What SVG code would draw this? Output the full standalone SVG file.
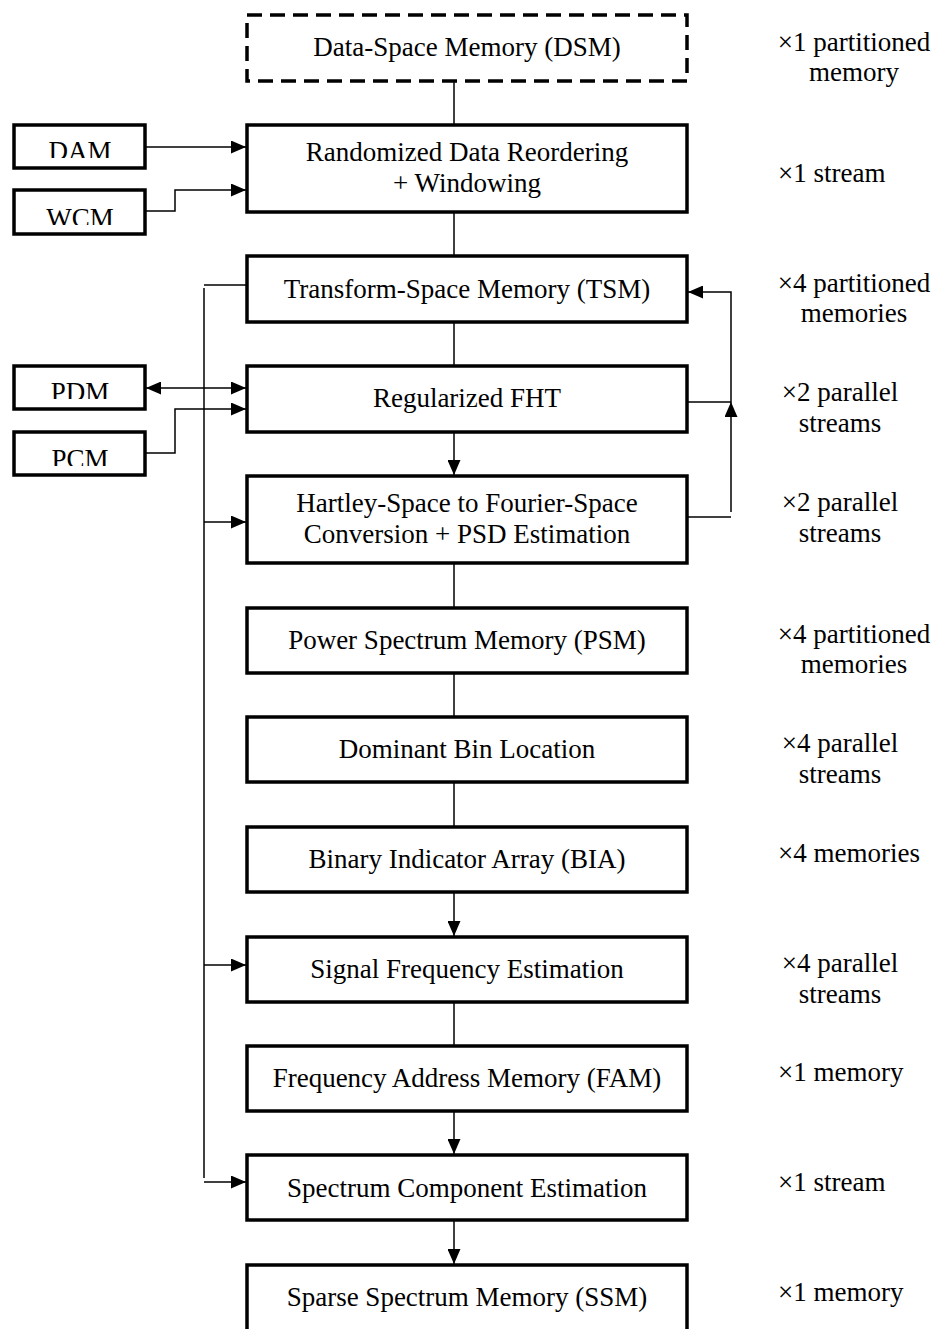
<svg xmlns="http://www.w3.org/2000/svg" width="933" height="1329" viewBox="0 0 933 1329">
  <style>
    text { font-family: "Liberation Serif", "Times New Roman", serif; font-size: 27px; fill: #000; }
    .c { text-anchor: middle; }
    .s { text-anchor: start; }
    .box { fill: #fff; stroke: #000; stroke-width: 3.5; }
    .dash { fill: #fff; stroke: #000; stroke-width: 3.5; stroke-dasharray: 15 8; }
    .ln { fill: none; stroke: #000; stroke-width: 1.5; }
  </style>
  <defs>
    <marker id="ah" viewBox="0 0 15 13" refX="15" refY="6.5" markerWidth="15" markerHeight="13" markerUnits="userSpaceOnUse" orient="auto-start-reverse">
      <path d="M0,0 L15,6.5 L0,13 Z" fill="#000"/>
    </marker>
    <clipPath id="clipDAM"><rect x="14" y="125" width="131" height="33"/></clipPath>
    <clipPath id="clipWCM"><rect x="14" y="189" width="131" height="36"/></clipPath>
    <clipPath id="clipPDM"><rect x="14" y="365" width="131" height="34"/></clipPath>
    <clipPath id="clipPCM"><rect x="14" y="431" width="131" height="35"/></clipPath>
  </defs>

  <!-- connectors -->
  <g id="connectors">
    <!-- main vertical chain -->
    <line class="ln" x1="454" y1="81" x2="454" y2="124"/>
    <line class="ln" x1="454" y1="212" x2="454" y2="255"/>
    <line class="ln" x1="454" y1="322" x2="454" y2="366"/>
    <line class="ln" x1="454" y1="432" x2="454" y2="475" marker-end="url(#ah)"/>
    <line class="ln" x1="454" y1="563" x2="454" y2="608"/>
    <line class="ln" x1="454" y1="673" x2="454" y2="717"/>
    <line class="ln" x1="454" y1="782" x2="454" y2="827"/>
    <line class="ln" x1="454" y1="892" x2="454" y2="936" marker-end="url(#ah)"/>
    <line class="ln" x1="454" y1="1002" x2="454" y2="1046"/>
    <line class="ln" x1="454" y1="1111" x2="454" y2="1154" marker-end="url(#ah)"/>
    <line class="ln" x1="454" y1="1220" x2="454" y2="1264" marker-end="url(#ah)"/>

    <!-- side memories into the reordering and FHT stages -->
    <line class="ln" x1="145" y1="147" x2="246" y2="147" marker-end="url(#ah)"/>
    <polyline class="ln" points="145,211 175,211 175,190 246,190" marker-end="url(#ah)"/>
    <line class="ln" x1="146" y1="388" x2="246" y2="388" marker-start="url(#ah)" marker-end="url(#ah)"/>
    <polyline class="ln" points="145,453 175,453 175,409 246,409" marker-end="url(#ah)"/>

    <!-- TSM read bus on the left -->
    <line class="ln" x1="247" y1="285" x2="204" y2="285"/>
    <line class="ln" x1="204" y1="288" x2="204" y2="1178"/>
    <line class="ln" x1="204" y1="522" x2="246" y2="522" marker-end="url(#ah)"/>
    <line class="ln" x1="204" y1="965" x2="246" y2="965" marker-end="url(#ah)"/>
    <line class="ln" x1="204" y1="1182" x2="246" y2="1182" marker-end="url(#ah)"/>

    <!-- write-back into TSM on the right -->
    <line class="ln" x1="686" y1="402" x2="731" y2="402"/>
    <line class="ln" x1="686" y1="517" x2="731" y2="517"/>
    <line class="ln" x1="731" y1="512" x2="731" y2="402" marker-end="url(#ah)"/>
    <polyline class="ln" points="731,402 731,292 688,292" marker-end="url(#ah)"/>
  </g>

  <!-- main pipeline -->
  <g id="dsm">
    <rect class="dash" x="247" y="15" width="440" height="66"/>
    <text class="c" x="467" y="56">Data-Space Memory (DSM)</text>
  </g>
  <g id="reorder">
    <rect class="box" x="247" y="125" width="440" height="87"/>
    <text class="c" x="467" y="161">Randomized Data Reordering</text>
    <text class="c" x="467" y="192">+ Windowing</text>
  </g>
  <g id="tsm">
    <rect class="box" x="247" y="256" width="440" height="66"/>
    <text class="c" x="467" y="298">Transform-Space Memory (TSM)</text>
  </g>
  <g id="fht">
    <rect class="box" x="247" y="366" width="440" height="66"/>
    <text class="c" x="467" y="407">Regularized FHT</text>
  </g>
  <g id="hartley">
    <rect class="box" x="247" y="476" width="440" height="87"/>
    <text class="c" x="467" y="512">Hartley-Space to Fourier-Space</text>
    <text class="c" x="467" y="543">Conversion + PSD Estimation</text>
  </g>
  <g id="psm">
    <rect class="box" x="247" y="608" width="440" height="65"/>
    <text class="c" x="467" y="649">Power Spectrum Memory (PSM)</text>
  </g>
  <g id="dominant">
    <rect class="box" x="247" y="717" width="440" height="65"/>
    <text class="c" x="467" y="758">Dominant Bin Location</text>
  </g>
  <g id="bia">
    <rect class="box" x="247" y="827" width="440" height="65"/>
    <text class="c" x="467" y="868">Binary Indicator Array (BIA)</text>
  </g>
  <g id="sfe">
    <rect class="box" x="247" y="937" width="440" height="65"/>
    <text class="c" x="467" y="978">Signal Frequency Estimation</text>
  </g>
  <g id="fam">
    <rect class="box" x="247" y="1046" width="440" height="65"/>
    <text class="c" x="467" y="1087">Frequency Address Memory (FAM)</text>
  </g>
  <g id="sce">
    <rect class="box" x="247" y="1155" width="440" height="65"/>
    <text class="c" x="467" y="1197">Spectrum Component Estimation</text>
  </g>
  <g id="ssm">
    <rect class="box" x="247" y="1265" width="440" height="80"/>
    <text class="c" x="467" y="1306">Sparse Spectrum Memory (SSM)</text>
  </g>

  <!-- side memories -->
  <g id="dam">
    <rect class="box" x="14" y="125" width="131" height="43"/>
    <text class="c" x="80" y="160" clip-path="url(#clipDAM)">DAM</text>
  </g>
  <g id="wcm">
    <rect class="box" x="14" y="190" width="131" height="44"/>
    <text class="c" x="80" y="227" clip-path="url(#clipWCM)">WCM</text>
  </g>
  <g id="pdm">
    <rect class="box" x="14" y="366" width="131" height="43"/>
    <text class="c" x="80" y="401" clip-path="url(#clipPDM)">PDM</text>
  </g>
  <g id="pcm">
    <rect class="box" x="14" y="432" width="131" height="43"/>
    <text class="c" x="80" y="468" clip-path="url(#clipPCM)">PCM</text>
  </g>

  <!-- instance counts -->
  <g id="counts">
    <text class="c" x="854" y="51">×1 partitioned</text>
    <text class="c" x="854" y="81">memory</text>
    <text class="s" x="778" y="182">×1 stream</text>
    <text class="c" x="854" y="292">×4 partitioned</text>
    <text class="c" x="854" y="322">memories</text>
    <text class="c" x="840" y="401">×2 parallel</text>
    <text class="c" x="840" y="432">streams</text>
    <text class="c" x="840" y="511">×2 parallel</text>
    <text class="c" x="840" y="542">streams</text>
    <text class="c" x="854" y="643">×4 partitioned</text>
    <text class="c" x="854" y="673">memories</text>
    <text class="c" x="840" y="752">×4 parallel</text>
    <text class="c" x="840" y="783">streams</text>
    <text class="s" x="778" y="862">×4 memories</text>
    <text class="c" x="840" y="972">×4 parallel</text>
    <text class="c" x="840" y="1003">streams</text>
    <text class="s" x="778" y="1081">×1 memory</text>
    <text class="s" x="778" y="1191">×1 stream</text>
    <text class="s" x="778" y="1301">×1 memory</text>
  </g>
</svg>
